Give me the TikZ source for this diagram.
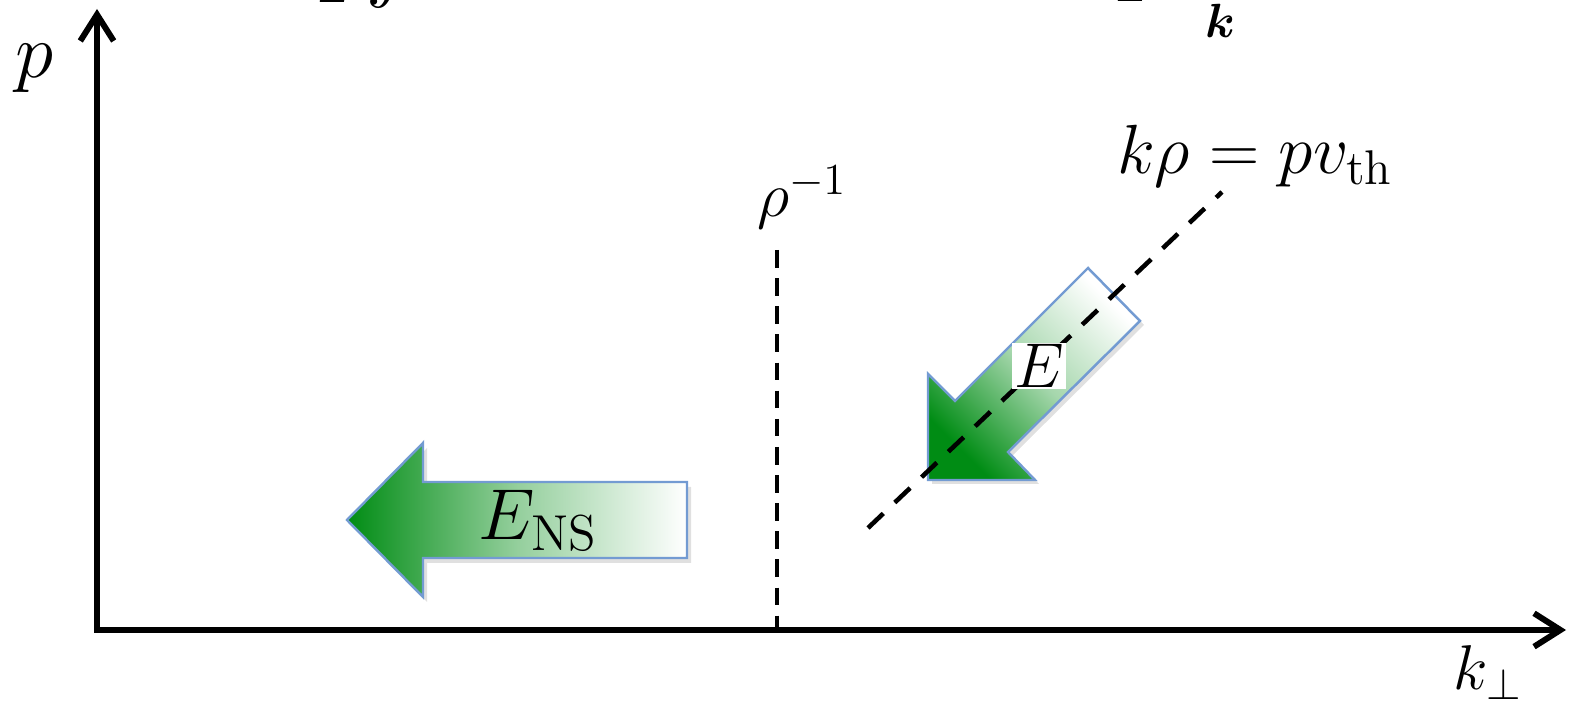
\RequirePackage{fix-cm}
\documentclass[tikz,border=0pt]{standalone}
\usepackage{amsmath,bm}
\usetikzlibrary{arrows.meta}
\definecolor{arrgreen}{RGB}{0,140,20}
\definecolor{arrborder}{RGB}{115,155,210}
\tikzset{
  lbl/.style={font=\fontsize{18}{22}\selectfont, inner sep=0pt},
  biglbl/.style={font=\fontsize{19.5}{24}\selectfont, inner sep=0pt},
  axisline/.style={line width=1.7pt, line cap=round,
    {Straight Barb[length=7.5pt,width=9.5pt]}-{Straight Barb[length=7.5pt,width=9.5pt]}},
  vdash/.style={line width=1.4pt, dash pattern=on 5pt off 3pt},
  ddash/.style={line width=1.3pt, dash pattern=on 6pt off 4.5pt},
  arrowshape/.style={draw=arrborder, line width=0.7pt},
  arrowshadow/.style={fill=black, opacity=0.12},
}
\begin{document}
\begin{tikzpicture}[x=0.01cm,y=-0.01cm]
\useasboundingbox (0,0) rectangle (1572,701);
\begin{scope}
\clip (0,0) rectangle (1572,701);
% cut-off formula fragments at the top edge
\node[biglbl, anchor=base] (halfL) at (333,-45) {$\displaystyle\frac{1}{2}$};
\node[biglbl, anchor=base] (intL) at (403,-55) {$\displaystyle\int$};
\node[biglbl, anchor=base] (halfR) at (1131,-46) {$\displaystyle\frac{1}{2}$};
\node[biglbl, anchor=base] (sumR) at (1220,-49) {$\displaystyle\sum_{\bm k}$};
\end{scope}

% axes
\coordinate (O) at (97,630);
\coordinate (ytop) at (97,9);
\coordinate (xend) at (1566,630);
\draw[axisline] (ytop) -- (O) -- (xend);
\node[font=\fontsize{22}{26}\selectfont, inner sep=0pt, anchor=base] (plab) at (35,78) {$p$};
\node[lbl, anchor=base] (klab) at (1488,690) {$k_\perp$};

% vertical dashed line at rho^{-1}
\coordinate (vtop) at (777,250);
\coordinate (vbot) at (777,630);
\draw[vdash] (vtop) -- (vbot);
\node[lbl, anchor=base] (rholab) at (802,217) {$\rho^{-1}$};

% E_NS arrow (pointing left)
\fill[arrowshadow] (351,525) -- (427,448) -- (427,487) -- (691,487) -- (691,563) -- (427,563) -- (427,602) -- cycle;
\shade[left color=arrgreen, right color=white, middle color=arrgreen!42!white] (347,520) -- (423,443) -- (423,482) -- (687,482) -- (687,558) -- (423,558) -- (423,597) -- cycle;
\draw[arrowshape] (347,520) -- (423,443) -- (423,482) -- (687,482) -- (687,558) -- (423,558) -- (423,597) -- cycle;
\node[font=\fontsize{20.5}{24}\selectfont, inner sep=0pt, anchor=base] (ens) at (538,540) {$E_{\mathrm{NS}}$};

% E arrow (pointing down-left)
\fill[arrowshadow] (932,484) -- (932,378) -- (959,405) -- (1092,272) -- (1144,325) -- (1012,456) -- (1039,484) -- cycle;
\shade[top color=white, bottom color=arrgreen, middle color=arrgreen!35!white, shading angle=-45] (928,480) -- (928,374) -- (955,401) -- (1088,268) -- (1140,321) -- (1008,452) -- (1035,480) -- cycle;
\draw[arrowshape] (928,480) -- (928,374) -- (955,401) -- (1088,268) -- (1140,321) -- (1008,452) -- (1035,480) -- cycle;

% diagonal dashed line k rho = p v_th
\coordinate (dlow) at (868,528);
\coordinate (dhigh) at (1222,192);
\draw[ddash] (dlow) -- (dhigh);
\node[font=\fontsize{19.8}{24}\selectfont, inner sep=0pt, anchor=base] (diaglab) at (1255,174) {$k\rho = pv_{\mathrm{th}}$};

\node[lbl, fill=white, inner sep=0.5pt] (elab) at (1039,366) {$E$};
\end{tikzpicture}
\end{document}
